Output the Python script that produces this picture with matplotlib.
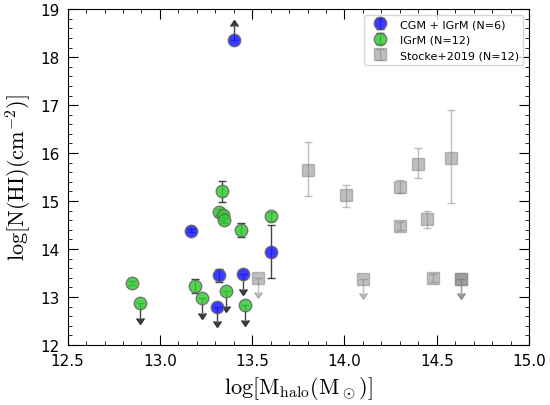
import matplotlib
matplotlib.use("Agg")
import matplotlib.pyplot as plt
from matplotlib.ticker import MultipleLocator

plt.rcParams["mathtext.fontset"] = "cm"

# CGM + IGrM
cgm_x = [13.17, 13.32, 13.31, 13.40, 13.45, 13.60]
cgm_y = [14.38, 13.45, 12.80, 18.35, 13.47, 13.93]
cgm_lo = [0.03, 0.13, 0.0, 0.0, 0.0, 0.53]
cgm_hi = [0.03, 0.13, 0.0, 0.0, 0.0, 0.57]
cgm_lim = ["", "", "ul", "ll", "ul", ""]

# IGrM
igm_x = [12.85, 12.89, 13.19, 13.23, 13.32, 13.335, 13.34, 13.35, 13.36, 13.44, 13.46, 13.60]
igm_y = [13.30, 12.87, 13.23, 12.97, 14.77, 15.20, 14.70, 14.60, 13.12, 14.40, 12.83, 14.68]
igm_err = [0.04, 0.0, 0.15, 0.0, 0.07, 0.22, 0.06, 0.06, 0.0, 0.14, 0.0, 0.09]
igm_lim = ["", "ul", "", "ul", "", "", "", "", "ul", "", "ul", ""]

# Stocke+2019
st_x = [13.53, 13.80, 14.01, 14.10, 14.30, 14.30, 14.40, 14.45, 14.48, 14.58, 14.63, 14.63]
st_y = [13.40, 15.65, 15.12, 13.38, 15.30, 14.48, 15.78, 14.62, 13.40, 15.90, 13.38, 13.38]
st_lo = [0.0, 0.55, 0.25, 0.0, 0.13, 0.08, 0.30, 0.19, 0.08, 0.94, 0.0, 0.0]
st_hi = [0.0, 0.58, 0.22, 0.0, 0.14, 0.08, 0.33, 0.18, 0.08, 1.0, 0.0, 0.0]
st_lim = ["ul", "", "", "ul", "", "", "", "", "", "", "ul", "ul"]

fig, ax = plt.subplots(figsize=(5.5, 4.06), dpi=100)


def draw(xs, ys, lo, hi, lims, color, marker, ms, alpha, ecol, label):
    first = True
    for x, y, l, h, lim in zip(xs, ys, lo, hi, lims):
        kw = dict(fmt=marker, ms=ms, color=ecol, mfc=color,
                  mec="0.4" if marker == "o" else color,
                  ecolor=ecol, capsize=3, elinewidth=1, alpha=alpha, zorder=3,
                  label=label if first else None)
        if lim == "ul":
            ax.errorbar(x, y, yerr=0.3, uplims=True, **kw)
        elif lim == "ll":
            ax.errorbar(x, y, yerr=0.3, lolims=True, **kw)
        else:
            ax.errorbar(x, y, yerr=[[l], [h]], **kw)
        first = False


draw(cgm_x, cgm_y, cgm_lo, cgm_hi, cgm_lim, "#1a1aff", "o", 9, 0.85, "#222222", "CGM + IGrM (N=6)")
draw(igm_x, igm_y, igm_err, igm_err, igm_lim, "#33cc33", "o", 9, 0.85, "#222222", "IGrM (N=12)")
draw(st_x, st_y, st_lo, st_hi, st_lim, "#808080", "s", 8, 0.5, "#808080", "Stocke+2019 (N=12)")

ax.set_xlim(12.5, 15.0)
ax.set_ylim(12, 19)
ax.xaxis.set_minor_locator(MultipleLocator(0.1))
ax.yaxis.set_minor_locator(MultipleLocator(0.2))
ax.tick_params(which="both", direction="in", right=True, top=True, labelsize=11)
ax.tick_params(which="major", length=7, pad=6)
ax.tick_params(which="minor", length=3)
ax.set_xlabel(r"$\log[\mathrm{M_{halo}(M_\odot)}]$", fontsize=16)
ax.set_ylabel(r"$\log[\mathrm{N(HI)(cm^{-2})}]$", fontsize=16)
ax.legend(loc="upper right", fontsize=8, numpoints=1)
plt.tight_layout(pad=0.3)
plt.savefig("out.png")
